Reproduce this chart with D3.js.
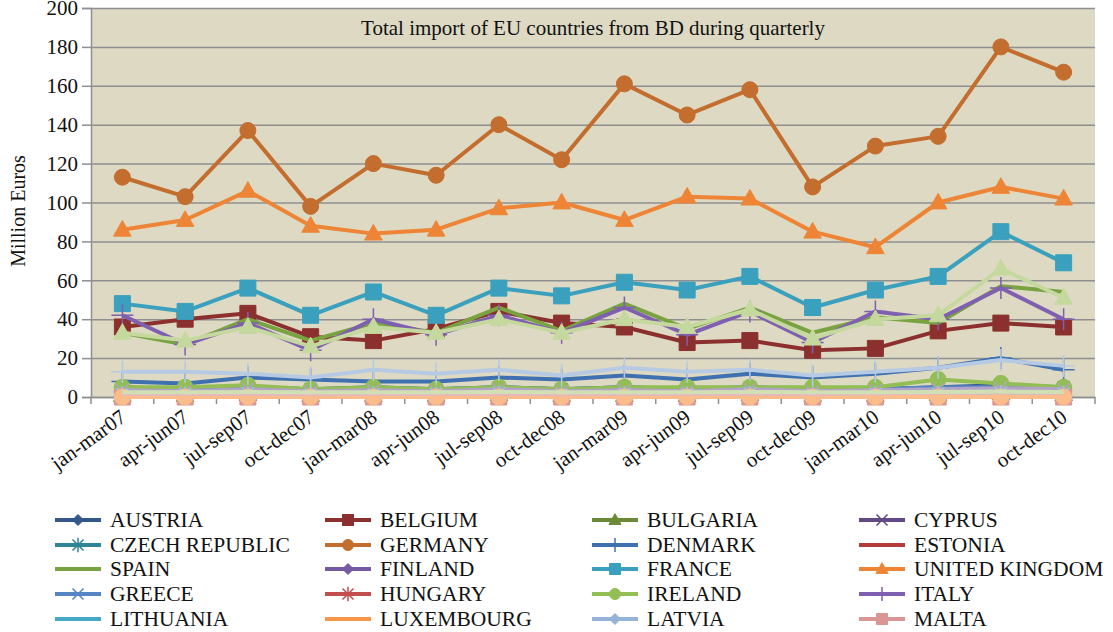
<!DOCTYPE html>
<html>
<head>
<meta charset="utf-8">
<title>Total import of EU countries from BD</title>
<script src="https://d3js.org/d3.v7.min.js"></script>
<style>
  body { margin: 0; background: #fff; }
  svg text { font-family: "Liberation Serif", "Times New Roman", serif; fill: #111; }
</style>
</head>
<body>
<div id="chart"></div>
<script>
// quarters on the x axis
const quarters = ["jan-mar07", "apr-jun07", "jul-sep07", "oct-dec07",
                  "jan-mar08", "apr-jun08", "jul-sep08", "oct-dec08",
                  "jan-mar09", "apr-jun09", "jul-sep09", "oct-dec09",
                  "jan-mar10", "apr-jun10", "jul-sep10", "oct-dec10"];
const yTicks = [0, 20, 40, 60, 80, 100, 120, 140, 160, 180, 200];

// million euros per quarter
const austria     = [5, 4, 5, 4, 5, 4, 5, 4, 5, 4, 5, 4, 4, 5, 6, 5];
const belgium     = [36, 40, 43, 31, 29, 35, 44, 38, 36, 28, 29, 24, 25, 34, 38, 36];
const bulgaria    = [1, 1, 1.5, 1, 1, 1, 1.5, 1, 1, 1, 1.5, 1, 1, 1.5, 2, 1.5];
const cyprus      = [0.5, 0.5, 0.6, 0.4, 0.5, 0.5, 0.6, 0.4, 0.5, 0.5, 0.6, 0.4, 0.5, 0.6, 0.7, 0.6];
const czech       = [2, 2, 3, 2, 2, 2, 3, 2, 3, 2, 3, 2, 2, 3, 3, 3];
const germany     = [113, 103, 137, 98, 120, 114, 140, 122, 161, 145, 158, 108, 129, 134, 180, 167];
const denmark     = [8, 7, 10, 9, 8, 8, 10, 9, 11, 9, 12, 10, 12, 15, 20, 14];
const estonia     = [0.2, 0.2, 0.3, 0.2, 0.2, 0.2, 0.3, 0.2, 0.2, 0.2, 0.3, 0.2, 0.2, 0.3, 0.3, 0.3];
const spain       = [33, 27, 40, 29, 38, 33, 46, 34, 48, 35, 46, 33, 41, 38, 57, 54];
const finland     = [3, 3, 3.5, 2.5, 3, 3, 3.5, 2.5, 3, 3, 3.5, 2.5, 3, 3.5, 4, 3.5];
const france      = [48, 44, 56, 42, 54, 42, 56, 52, 59, 55, 62, 46, 55, 62, 85, 69];
const unitedKingdom = [86, 91, 106, 88, 84, 86, 97, 100, 91, 103, 102, 85, 77, 100, 108, 102];
const greece      = [4, 4, 5, 4, 4, 4, 5, 4, 5, 4, 5, 4, 4, 5, 5, 5];
const hungary     = [0.8, 0.7, 0.9, 0.7, 0.8, 0.7, 0.9, 0.7, 0.8, 0.7, 0.9, 0.7, 0.8, 0.9, 1, 0.9];
const ireland     = [5, 5, 6, 4, 5, 4, 5, 4, 5, 5, 5, 5, 5, 9, 7, 5];
const italy       = [42, 27, 38, 24, 40, 32, 42, 33, 46, 32, 44, 28, 44, 40, 56, 40];
const lithuania   = [0.3, 0.3, 0.4, 0.3, 0.3, 0.3, 0.4, 0.3, 0.3, 0.3, 0.4, 0.3, 0.3, 0.4, 0.4, 0.4];
const luxembourg  = [0.2, 0.2, 0.2, 0.1, 0.2, 0.2, 0.2, 0.1, 0.2, 0.2, 0.2, 0.1, 0.2, 0.2, 0.2, 0.2];
const latvia      = [0.3, 0.3, 0.3, 0.2, 0.3, 0.3, 0.3, 0.2, 0.3, 0.3, 0.3, 0.2, 0.3, 0.3, 0.4, 0.3];
const malta       = [0, 0, 0, 0, 0, 0, 0, 0, 0, 0, 0, 0, 0, 0, 0, 0];
// series drawn in the plot whose legend entries are cut off
const netherlands = [33, 29, 36, 26, 36, 33, 40, 33, 40, 36, 45, 30, 40, 42, 66, 51];
const poland      = [3.5, 3, 4, 3, 3.5, 3, 4, 3, 3.5, 3, 4, 3, 3.5, 4, 4.5, 4];
const portugal    = [1.5, 1.5, 1.8, 1.3, 1.5, 1.5, 1.8, 1.3, 1.5, 1.5, 1.8, 1.3, 1.5, 1.8, 2, 1.8];
const romania     = [0, 0, 0, 0, 0, 0, 0, 0, 0, 0, 0, 0, 0, 0, 0, 0];
const sweden      = [13, 13, 12, 10, 14, 12, 14, 11, 15, 13, 14, 11, 13, 15, 19, 16];
const slovenia    = [1.5, 1.5, 1.6, 1.4, 1.5, 1.5, 1.6, 1.4, 1.5, 1.5, 1.6, 1.4, 1.8, 2, 2.2, 2];
const slovakia    = [2.5, 2.5, 2.6, 2.4, 2.5, 2.5, 2.6, 2.4, 2.5, 2.5, 2.6, 2.4, 2.5, 2.6, 2.8, 2.6];

const legendSeries = [
  ["AUSTRIA", austria], ["BELGIUM", belgium], ["BULGARIA", bulgaria], ["CYPRUS", cyprus],
  ["CZECH REPUBLIC", czech], ["GERMANY", germany], ["DENMARK", denmark], ["ESTONIA", estonia],
  ["SPAIN", spain], ["FINLAND", finland], ["FRANCE", france], ["UNITED KINGDOM", unitedKingdom],
  ["GREECE", greece], ["HUNGARY", hungary], ["IRELAND", ireland], ["ITALY", italy],
  ["LITHUANIA", lithuania], ["LUXEMBOURG", luxembourg], ["LATVIA", latvia], ["MALTA", malta]
];
const unlistedSeries = [
  ["NETHERLANDS", netherlands], ["POLAND", poland], ["PORTUGAL", portugal], ["ROMANIA", romania],
  ["SWEDEN", sweden], ["SLOVENIA", slovenia], ["SLOVAKIA", slovakia]
];

// colour and marker for each series
const style = {
  "AUSTRIA": ["#34578a", "diamond"], "BELGIUM": ["#8b302e", "square"],
  "BULGARIA": ["#6c8a36", "triangle"], "CYPRUS": ["#614a85", "x"],
  "CZECH REPUBLIC": ["#2f8595", "star"], "GERMANY": ["#c36d2e", "circle"],
  "DENMARK": ["#3f70b0", "plus"], "ESTONIA": ["#b43b39", "none"],
  "SPAIN": ["#78a340", "none"], "FINLAND": ["#7659a3", "diamond"],
  "FRANCE": ["#3aa0bd", "square"], "UNITED KINGDOM": ["#ee8536", "triangle"],
  "GREECE": ["#5585c5", "x"], "HUNGARY": ["#c24f4e", "star"],
  "IRELAND": ["#93bd55", "circle"], "ITALY": ["#7f5fb0", "plus"],
  "LITHUANIA": ["#45a8c4", "none"], "LUXEMBOURG": ["#f79646", "none"],
  "LATVIA": ["#95b3d7", "diamond"], "MALTA": ["#d99694", "square"],
  "NETHERLANDS": ["#c5d99e", "triangle"], "POLAND": ["#b3a2c7", "x"],
  "PORTUGAL": ["#93cddd", "star"], "ROMANIA": ["#fbbc8c", "circle"],
  "SWEDEN": ["#b6cae4", "plus"], "SLOVENIA": ["#e6b9b8", "none"],
  "SLOVAKIA": ["#d0e0b4", "none"]
};

function markerPath(type, r) {
  switch (type) {
    case "diamond": return `M0,${-r}L${r},0L0,${r}L${-r},0Z`;
    case "square": return `M${-r},${-r}h${2*r}v${2*r}h${-2*r}Z`;
    case "triangle": return `M0,${-r*1.15}L${r*1.1},${r*0.8}L${-r*1.1},${r*0.8}Z`;
    case "circle": return `M${r},0A${r},${r} 0 1,1 ${-r},0A${r},${r} 0 1,1 ${r},0Z`;
    case "x": return `M${-r},${-r}L${r},${r}M${r},${-r}L${-r},${r}`;
    case "star": return `M${-r},${-r}L${r},${r}M${r},${-r}L${-r},${r}M0,${-r*1.3}V${r*1.3}`;
    case "plus": return `M${-r},0H${r}M0,${-r}V${r}`;
  }
  return null;
}
const strokeMarkers = ["x", "star", "plus"];

let w = 1113, h = 632;
let margin = { top: 8, left: 91 },
    width = 1004, height = 389;

let svg = d3.select("#chart").append("svg")
    .attr("width", w)
    .attr("height", h);

let g = svg.append("g")
    .attr("transform", "translate(" + margin.left + "," + margin.top + ")");

let xScale = d3.scaleBand().domain(quarters).range([0, width]);
let yScale = d3.scaleLinear().domain([0, 200]).range([height, 0]);
let cx = q => xScale(q) + xScale.bandwidth() / 2;

// plot background
g.append("rect")
    .attr("width", width).attr("height", height)
    .attr("fill", "#ddd9c3");

// gridlines
g.append("g")
    .call(d3.axisLeft(yScale).tickValues(yTicks).tickSize(-width).tickFormat(""))
    .call(s => s.select(".domain").remove())
    .selectAll("line").attr("stroke", "#8f8f8f").attr("stroke-width", 1.5);

// y axis
g.append("g")
    .call(d3.axisLeft(yScale).tickValues(yTicks).tickSize(9).tickPadding(4))
    .call(s => s.select(".domain").attr("stroke", "#8f8f8f").attr("stroke-width", 1.5))
    .call(s => s.selectAll("line").attr("stroke", "#8f8f8f").attr("stroke-width", 1.5))
    .call(s => s.selectAll("text").style("font-size", "21px").attr("font-family", null));

// x axis line and ticks between the quarters
g.append("g")
    .attr("transform", "translate(0," + height + ")")
    .call(d3.axisBottom(xScale).tickSize(0).tickFormat(""))
    .call(s => s.select(".domain").attr("stroke", "#8f8f8f").attr("stroke-width", 1.5));

g.selectAll(".xtick")
    .data(quarters.map(q => xScale(q)).concat([width]))
    .enter().append("line")
    .attr("x1", d => d).attr("x2", d => d)
    .attr("y1", height).attr("y2", height + 7)
    .attr("stroke", "#8f8f8f").attr("stroke-width", 1.5);

g.selectAll(".xlabel")
    .data(quarters).enter()
    .append("text")
    .attr("transform", d => "translate(" + (cx(d) + 5) + "," + (height + 23) + ") rotate(-36)")
    .attr("text-anchor", "end")
    .style("font-size", "21px")
    .text(d => d);

// series lines and markers
let line = d3.line()
    .x((v, i) => cx(quarters[i]))
    .y(v => yScale(v));

legendSeries.concat(unlistedSeries).forEach(function(s) {
  let name = s[0], values = s[1];
  let color = style[name][0], marker = style[name][1];
  let sg = g.append("g");
  sg.append("path")
      .attr("d", line(values))
      .attr("fill", "none")
      .attr("stroke", color)
      .attr("stroke-width", 4)
      .attr("stroke-linejoin", "round");
  if (marker === "none") return;
  let r = marker === "plus" ? 11 : (strokeMarkers.includes(marker) ? 6 : 8);
  sg.selectAll("path.m")
      .data(values).enter()
      .append("path")
      .attr("class", "m")
      .attr("transform", (v, i) => "translate(" + cx(quarters[i]) + "," + yScale(v) + ")")
      .attr("d", markerPath(marker, r))
      .attr("fill", strokeMarkers.includes(marker) ? "none" : color)
      .attr("stroke", color)
      .attr("stroke-width", strokeMarkers.includes(marker) ? 1.5 : 1);
});

// title
g.append("text")
    .attr("x", 502).attr("y", 27)
    .attr("text-anchor", "middle")
    .style("font-size", "21px")
    .text("Total import of EU countries from BD during quarterly");

// y axis title
svg.append("text")
    .attr("transform", "translate(25,211) rotate(-90)")
    .attr("text-anchor", "middle")
    .style("font-size", "20px")
    .text("Million Euros");

// legend: 4 columns, 5 rows
let colX = [55, 325, 592, 859];
let rowY = [520, 545, 569, 594, 619];
let legend = svg.append("g");
legendSeries.forEach(function(s, i) {
  let name = s[0];
  let color = style[name][0], marker = style[name][1];
  let x = colX[i % 4], y = rowY[Math.floor(i / 4)];
  let item = legend.append("g").attr("transform", "translate(" + x + "," + y + ")");
  item.append("line")
      .attr("x1", 0).attr("x2", 46)
      .attr("stroke", color).attr("stroke-width", 4);
  let mp = markerPath(marker, marker === "plus" ? 7 : 5.5);
  if (mp) {
    item.append("path")
        .attr("transform", "translate(23,0)")
        .attr("d", mp)
        .attr("fill", strokeMarkers.includes(marker) ? "none" : color)
        .attr("stroke", color)
        .attr("stroke-width", strokeMarkers.includes(marker) ? 1.5 : 1);
  }
  item.append("text")
      .attr("x", 55).attr("y", 7)
      .style("font-size", "21.5px")
      .text(name);
});
</script>
</body>
</html>
